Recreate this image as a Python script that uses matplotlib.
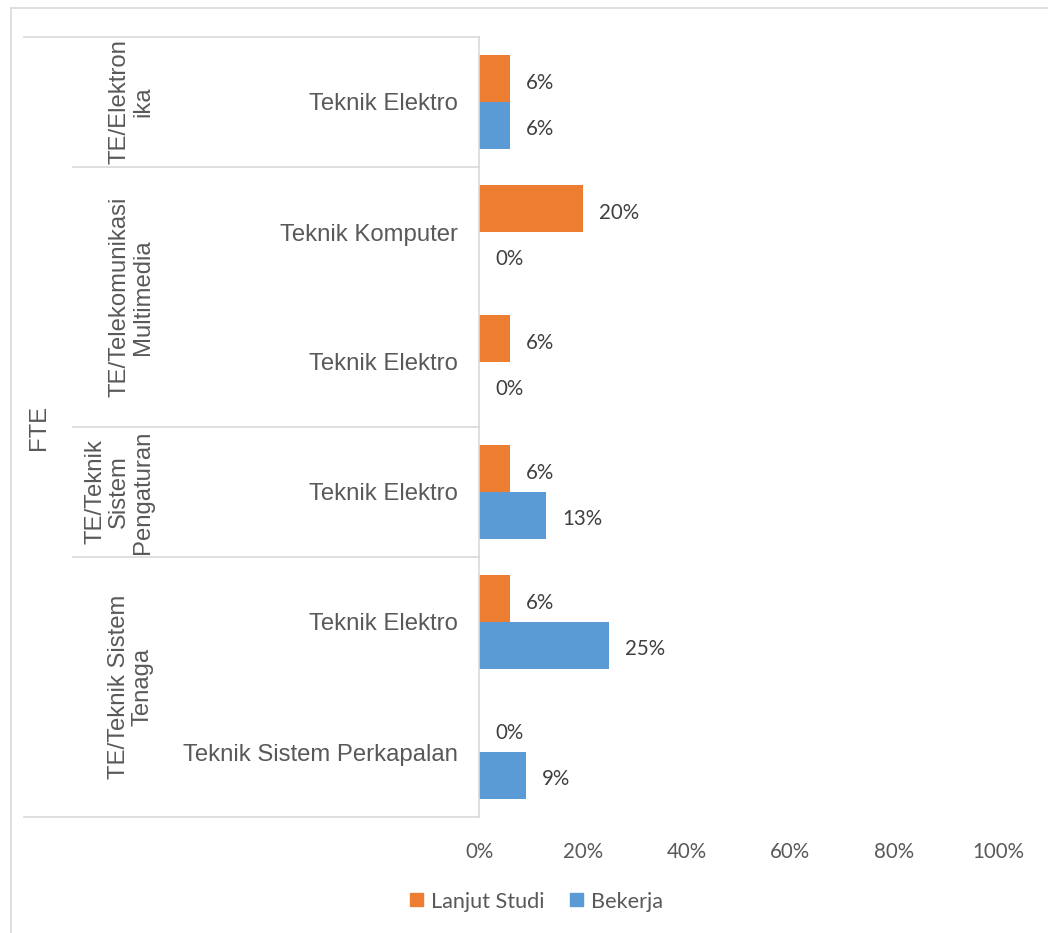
import numpy as np
import matplotlib
matplotlib.use("Agg")
import matplotlib.pyplot as plt
from matplotlib.lines import Line2D
from matplotlib.patches import Patch
from matplotlib.transforms import blended_transform_factory

# hierarchy of the category axis, top to bottom
faculty = "FTE"
groups = ["TE/Elektron\nika", "TE/Telekomunikasi\nMultimedia",
          "TE/Teknik\nSistem\nPengaturan", "TE/Teknik Sistem\nTenaga"]
group_sizes = [1, 2, 1, 2]
programs = ["Teknik Elektro", "Teknik Komputer", "Teknik Elektro",
            "Teknik Elektro", "Teknik Elektro", "Teknik Sistem Perkapalan"]

# percentages per program
lanjut_studi = [6, 20, 6, 6, 6, 0]
bekerja = [6, 0, 0, 13, 25, 9]
xticks = [0, 20, 40, 60, 80, 100]

W, H = 1048, 933
orange = "#ED7D31"
blue = "#5B9BD5"
line_col = "#D9D9D9"
text_col = "#595959"
label_font = "Liberation Sans"
num_font = "Lato"

fig = plt.figure(figsize=(W / 100, H / 100), dpi=100)
ax = fig.add_axes([479 / W, 1 - 817 / H, 519 / W, 780 / H])

y = np.arange(len(programs))
bh = 0.36
bars1 = ax.barh(y - bh / 2, lanjut_studi, height=bh, color=orange)
bars2 = ax.barh(y + bh / 2, bekerja, height=bh, color=blue)
ax.set_xlim(0, 100)
ax.set_ylim(len(programs) - 0.5, -0.5)

# value labels to the right of each bar
for bars, vals in [(bars1, lanjut_studi), (bars2, bekerja)]:
    for b, v in zip(bars, vals):
        ax.annotate(f"{v}%", xy=(v, b.get_y() + b.get_height() / 2),
                    xytext=(11.5, -1.5), textcoords="offset points",
                    ha="left", va="center_baseline", fontsize=14.8,
                    family=num_font, color="#404040")

ax.set_xticks(xticks)
ax.set_xticklabels([f"{t}%" for t in xticks], family=num_font)
ax.set_yticks([])
ax.tick_params(axis="x", length=0, pad=18, labelsize=14.8, labelcolor=text_col)
for s in ["top", "right", "bottom"]:
    ax.spines[s].set_visible(False)
ax.spines["left"].set_color(line_col)
ax.spines["left"].set_linewidth(1.2)

# multi-level category axis drawn left of the plot
trans = blended_transform_factory(fig.transFigure, ax.transData)
edges = np.concatenate([[0], np.cumsum(group_sizes)]) - 0.5
for i, e in enumerate(edges):
    x0 = 24 / W if i in (0, len(edges) - 1) else 73 / W
    ax.add_line(Line2D([x0, 479 / W], [e, e], transform=trans,
                       color=line_col, lw=1.2, clip_on=False))

for i, name in enumerate(programs):
    ax.text(458 / W, i, name, transform=trans, ha="right", va="center_baseline",
            fontsize=17.2, family=label_font, color=text_col)

for g, start, size in zip(groups, edges[:-1], group_sizes):
    ax.text(154 / W, start + size / 2, g, transform=trans, rotation=90,
            ha="right", va="center", multialignment="center",
            linespacing=1.1, fontsize=17.2, family=label_font, color=text_col)

ax.text(39 / W, (edges[0] + edges[-1]) / 2, faculty, transform=trans,
        rotation=90, ha="center", va="center", fontsize=17.2,
        family=label_font, color=text_col)

# chart area border
fig.add_artist(Line2D([10.5 / W, 10.5 / W], [0, 1 - 8 / H],
                      transform=fig.transFigure, color=line_col, lw=1.2))
fig.add_artist(Line2D([10.5 / W, 1], [1 - 8 / H, 1 - 8 / H],
                      transform=fig.transFigure, color=line_col, lw=1.2))

handles = [Patch(color=orange, label="Lanjut Studi"),
           Patch(color=blue, label="Bekerja")]
fig.legend(handles=handles, loc="center", bbox_to_anchor=(536.5 / W, 1 - 901.5 / H),
           ncol=2, frameon=False, prop=dict(family=num_font, size=15.6),
           labelcolor=text_col, handlelength=0.57, handleheight=0.53,
           handletextpad=0.38, columnspacing=1.2)

fig.savefig("out.png", dpi=100)
